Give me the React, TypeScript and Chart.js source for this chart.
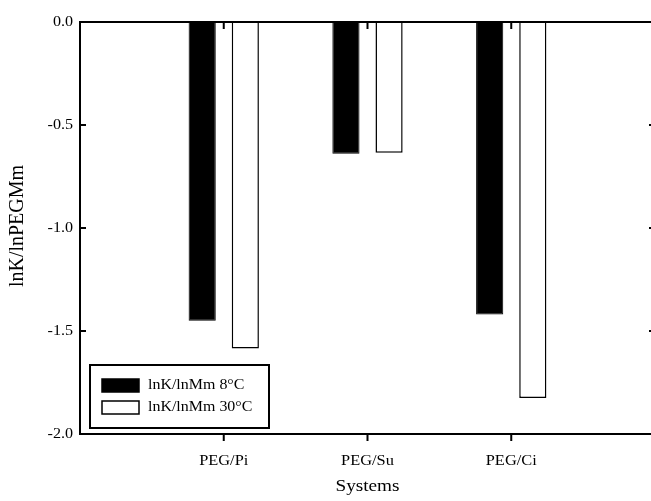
import React, { useEffect, useRef } from "react";
import { Chart, registerables } from "chart.js";

Chart.register(...registerables);

const categories = ["PEG/Pi", "PEG/Su", "PEG/Ci"];
const series8C = [-1.45, -0.64, -1.42];
const series30C = [-1.585, -0.635, -1.825];
const seriesLabels = ["lnK/lnMm 8°C", "lnK/lnMm 30°C"];
const yTickValues = [0, -0.5, -1.0, -1.5, -2.0];
const xTitle = "Systems";
const yTitle = "lnK/lnPEGMm";

const FONT = '"Liberation Serif", "Times New Roman", serif';

function stretchText(
  ctx: CanvasRenderingContext2D,
  text: string,
  x: number,
  y: number,
  size: number,
  sx: number,
  align: CanvasTextAlign,
  rotate = 0
) {
  ctx.save();
  ctx.translate(x, y);
  if (rotate) ctx.rotate(rotate);
  ctx.scale(sx, 1);
  ctx.font = `${size}px ${FONT}`;
  ctx.textAlign = align;
  ctx.textBaseline = "middle";
  ctx.fillStyle = "#000";
  ctx.fillText(text, 0, 0);
  ctx.restore();
}

const framePlugin = {
  id: "frame",
  afterDraw(chart: any) {
    const ctx: CanvasRenderingContext2D = chart.ctx;
    const { left, right, top, bottom } = chart.chartArea;
    const xs = chart.scales.x;
    const ys = chart.scales.y;
    ctx.save();
    ctx.strokeStyle = "#000";
    ctx.lineWidth = 2;
    ctx.beginPath();
    ctx.moveTo(left - 1, top);
    ctx.lineTo(right, top);
    ctx.moveTo(right, top);
    ctx.lineTo(right, bottom);
    ctx.stroke();

    // y ticks (inward on both sides) and labels
    yTickValues.forEach((v) => {
      const y = ys.getPixelForValue(v);
      ctx.beginPath();
      ctx.moveTo(left, y);
      ctx.lineTo(left + 6, y);
      ctx.moveTo(right - 6, y);
      ctx.lineTo(right, y);
      ctx.stroke();
      stretchText(ctx, v.toFixed(1), left - 7, y, 14, 1.15, "right");
    });

    // x ticks at categories
    categories.forEach((c, i) => {
      const x = xs.getPixelForValue(i + 1);
      ctx.beginPath();
      ctx.moveTo(x, top);
      ctx.lineTo(x, top + 7);
      ctx.moveTo(x, bottom);
      ctx.lineTo(x, bottom + 7);
      ctx.stroke();
      stretchText(ctx, c, x, bottom + 27, 14, 1.17, "center");
    });

    // axis titles
    stretchText(ctx, xTitle, (left + right) / 2, bottom + 53, 16, 1.2, "center");
    stretchText(ctx, yTitle, 18, (top + bottom) / 2 - 2, 20, 1, "center", -Math.PI / 2);

    // legend
    const bx = left + 10;
    const by = bottom - 69;
    ctx.lineWidth = 2;
    ctx.strokeRect(bx, by, 179, 63);
    chart.data.datasets.forEach((ds: any, i: number) => {
      const sy = by + 14 + i * 22;
      ctx.fillStyle = ds.backgroundColor;
      ctx.fillRect(bx + 12, sy, 37, 13);
      ctx.lineWidth = 1.5;
      ctx.strokeStyle = ds.borderColor;
      ctx.strokeRect(bx + 12, sy, 37, 13);
      stretchText(ctx, ds.label, bx + 58, sy + 6.5, 14, 1.14, "left");
    });
    ctx.restore();
  },
};

export default function App() {
  const ref = useRef<HTMLCanvasElement | null>(null);
  useEffect(() => {
    if (!ref.current) return;
    const labels = ["", ...categories, ""];
    const chart = new Chart(ref.current, {
      type: "bar",
      data: {
        labels,
        datasets: [
          {
            label: seriesLabels[0],
            data: [null, ...series8C, null],
            backgroundColor: "#000000",
            borderColor: "#000000",
            borderWidth: 1,
            barPercentage: 0.63,
            categoryPercentage: 0.6,
          },
          {
            label: seriesLabels[1],
            data: [null, ...series30C, null],
            backgroundColor: "#ffffff",
            borderColor: "#000000",
            borderWidth: 1.5,
            barPercentage: 0.63,
            categoryPercentage: 0.6,
          },
        ],
      },
      options: {
        animation: false,
        responsive: false,
        devicePixelRatio: 1,
        layout: { padding: { top: 22, right: 1, left: 0, bottom: 0 } },
        plugins: { legend: { display: false }, tooltip: { enabled: false } },
        scales: {
          x: {
            offset: false,
            grid: { display: false },
            border: { display: true, color: "#000", width: 2 },
            ticks: { display: false },
            afterFit: (s: any) => {
              s.height = 67;
            },
          },
          y: {
            min: -2,
            max: 0,
            ticks: { display: false, stepSize: 0.5 },
            grid: { display: false },
            border: { display: true, color: "#000", width: 2 },
            afterFit: (s: any) => {
              s.width = 80;
            },
          },
        },
      },
      plugins: [framePlugin],
    });
    return () => chart.destroy();
  }, []);
  return (
    <div
      style={{
        position: "absolute",
        left: 0,
        top: 0,
        width: 651,
        height: 501,
        overflow: "hidden",
        background: "#fff",
      }}
    >
      <canvas ref={ref} width={656} height={501} style={{ display: "block" }} />
    </div>
  );
}
